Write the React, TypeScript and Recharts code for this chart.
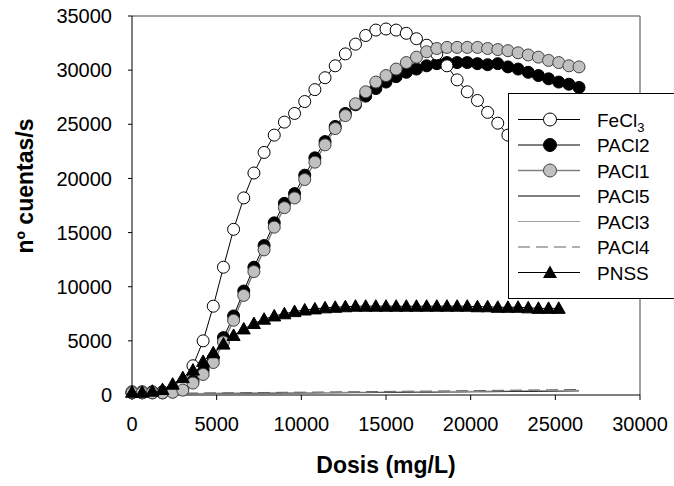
import React from 'react';
import { LineChart, Line, XAxis, YAxis, ReferenceLine, Legend, Label } from 'recharts';

const FONT = 'Arial, "Liberation Sans", sans-serif';

// dose (mg/L)
const doses = [
  0, 600, 1200, 1800, 2400, 3000, 3600, 4200, 4800, 5400, 6000, 6600, 7200, 7800, 8400,
  9000, 9600, 10200, 10800, 11400, 12000, 12600, 13200, 13800, 14400, 15000, 15600, 16200,
  16800, 17400, 18000, 18600, 19200, 19800, 20400, 21000, 21600, 22200, 22800, 23400, 24000,
  24600, 25200, 25800, 26400,
];

const fecl3 = [
  300, 300, 300, 300, 400, 1000, 2700, 5000, 8200, 11800, 15300, 18200, 20500, 22400, 24000,
  25200, 26000, 27100, 28200, 29300, 30400, 31500, 32400, 33200, 33700, 33800, 33700, 33400,
  32900, 32300, 31500, 30400, 29100, 28000, 27200, 26100, 25100, 24000, null, null, null,
  null, null, null, null,
];

const pacl2 = [
  200, 200, 200, 200, 300, 600, 1300, 2300, 3400, 5300, 7300, 9600, 11800, 13800, 15900,
  17700, 18600, 20300, 21900, 23400, 24800, 26000, 26800, 27600, 28300, 28900, 29400, 29800,
  30100, 30400, 30600, 30700, 30700, 30700, 30600, 30500, 30600, 30300, 30100, 29800, 29500,
  29200, 28900, 28700, 28400,
];

const pacl1 = [
  200, 200, 200, 200, 250, 450, 1100, 1900, 3000, 4900, 6900, 9200, 11400, 13400, 15500,
  17300, 18200, 19900, 21500, 23100, 24600, 25800, 26900, 28000, 28900, 29500, 30100, 30700,
  31200, 31700, 32000, 32100, 32100, 32100, 32100, 32000, 31900, 31800, 31600, 31400, 31200,
  30900, 30700, 30400, 30300,
];

const pacl5 = [
  100, 100, 110, 110, 120, 120, 130, 140, 140, 150, 150, 160, 160, 170, 170,
  180, 180, 190, 190, 200, 200, 210, 220, 220, 230, 240, 240, 250, 260, 260,
  270, 280, 280, 290, 300, 300, 310, 320, 330, 330, 340, 350, 360, 370, 380,
];

const pacl3 = [
  120, 120, 130, 130, 140, 140, 150, 150, 160, 170, 170, 180, 190, 190, 200,
  210, 210, 220, 230, 230, 240, 250, 260, 260, 270, 280, 290, 300, 300, 310,
  320, 330, 340, 340, 350, 360, 370, 380, 390, 400, 410, 410, 420, 430, 440,
];

const pacl4 = [
  150, 150, 160, 160, 170, 180, 180, 190, 200, 200, 210, 220, 230, 230, 240,
  250, 260, 260, 270, 280, 290, 300, 300, 310, 320, 330, 340, 350, 360, 360,
  370, 380, 390, 400, 410, 420, 430, 440, 450, 460, 470, 480, 490, 500, 510,
];

const pnss = [
  250, 250, 350, 500, 1000, 1600, 2300, 3100, 3900, 4700, 5500, 6100, 6600, 7000, 7300,
  7500, 7700, 7850, 7950, 8050, 8100, 8150, 8200, 8200, 8200, 8200, 8200, 8200, 8200, 8200,
  8200, 8200, 8200, 8200, 8150, 8150, 8100, 8100, 8100, 8050, 8000, 8000, 8000, null, null,
];

const xTicks = [0, 5000, 10000, 15000, 20000, 25000, 30000];
const yTicks = [0, 5000, 10000, 15000, 20000, 25000, 30000, 35000];

const data = doses.map((d, i) => ({
  dose: d,
  fecl3: fecl3[i],
  pacl2: pacl2[i],
  pacl1: pacl1[i],
  pacl5: pacl5[i],
  pacl3: pacl3[i],
  pacl4: pacl4[i],
  pnss: pnss[i],
}));

const Triangle = (props: any) => {
  const { cx, cy, index } = props;
  if (cx == null || cy == null || isNaN(cy)) return <g key={`t${index}`} />;
  return (
    <polygon
      key={`t${index}`}
      points={`${cx},${cy - 6.5} ${cx + 6.5},${cy + 5} ${cx - 6.5},${cy + 5}`}
      fill="#000"
      stroke="#000"
      strokeWidth={1}
    />
  );
};

const legendRows = [
  { name: 'FeCl', sub: '3', line: '#000', dash: undefined, width: 1, marker: 'circle', fill: '#fff' },
  { name: 'PACl2', line: '#000', dash: undefined, width: 1, marker: 'circle', fill: '#000' },
  { name: 'PACl1', line: '#808080', dash: undefined, width: 1.5, marker: 'circle', fill: '#c0c0c0' },
  { name: 'PACl5', line: '#000', dash: undefined, width: 1, marker: 'none', fill: '' },
  { name: 'PACl3', line: '#a0a0a0', dash: undefined, width: 1, marker: 'none', fill: '' },
  { name: 'PACl4', line: '#606060', dash: '12 6', width: 1, marker: 'none', fill: '' },
  { name: 'PNSS', line: '#000', dash: undefined, width: 1, marker: 'triangle', fill: '#000' },
];

const LegendBox = () => (
  <svg width={170} height={206} style={{ display: 'block' }}>
    <rect x={0.5} y={0.5} width={169} height={205} fill="#fff" stroke="#000" strokeWidth={1} />
    {legendRows.map((r, i) => {
      const y = 26.5 + i * 25.5;
      return (
        <g key={r.name}>
          <line x1={10} x2={72} y1={y} y2={y} stroke={r.line} strokeWidth={r.width} strokeDasharray={r.dash} />
          {r.marker === 'circle' && (
            <circle cx={42} cy={y} r={6.5} fill={r.fill} stroke={r.fill === '#c0c0c0' ? '#404040' : '#000'} />
          )}
          {r.marker === 'triangle' && (
            <polygon points={`42,${y - 7} 49,${y + 5.5} 35,${y + 5.5}`} fill="#000" />
          )}
          <text x={89} y={y + 7} fontSize={19} fontFamily={FONT} fill="#000">
            {r.name}
            {r.sub && (
              <tspan fontSize={13} dy={5}>
                {r.sub}
              </tspan>
            )}
          </text>
        </g>
      );
    })}
  </svg>
);

export default function App() {
  return (
    <div
      style={{
        position: 'absolute',
        left: 0,
        top: 0,
        width: 674,
        height: 486,
        overflow: 'hidden',
        background: '#fff',
        fontFamily: FONT,
      }}
    >
      <LineChart width={674} height={486} data={data} margin={{ top: 16, right: 34, bottom: 0, left: 0 }}>
        <XAxis
          dataKey="dose"
          type="number"
          domain={[0, 30000]}
          ticks={xTicks}
          height={91}
          tickSize={5}
          tickMargin={17}
          axisLine={{ stroke: '#000' }}
          tickLine={{ stroke: '#000' }}
          tick={{ fill: '#000', fontSize: 20, fontFamily: FONT }}
        >
          <Label
            content={() => (
              <text x={386} y={473} textAnchor="middle" fontSize={23} fontWeight="bold" fontFamily={FONT} fill="#000">
                Dosis (mg/L)
              </text>
            )}
          />
        </XAxis>
        <YAxis
          type="number"
          domain={[0, 35000]}
          ticks={yTicks}
          width={132}
          tickSize={4}
          tickMargin={16}
          axisLine={{ stroke: '#000' }}
          tickLine={{ stroke: '#000' }}
          tick={{ fill: '#000', fontSize: 20, fontFamily: FONT }}
        >
          <Label
            content={() => (
              <text
                x={33}
                y={186}
                transform="rotate(-90 33 186)"
                textAnchor="middle"
                fontSize={23}
                fontWeight="bold"
                fontFamily={FONT}
                fill="#000"
              >
                nº cuentas/s
              </text>
            )}
          />
        </YAxis>
        <ReferenceLine y={35000} stroke="#808080" strokeWidth={1.5} />
        <ReferenceLine x={30000} stroke="#808080" strokeWidth={1.5} />

        <Line
          dataKey="pacl2"
          name="PACl2"
          stroke="#000"
          strokeWidth={1}
          dot={{ r: 6, fill: '#000', stroke: '#000', strokeWidth: 1 }}
          activeDot={false}
          isAnimationActive={false}
        />
        <Line
          dataKey="fecl3"
          name="FeCl3"
          stroke="#000"
          strokeWidth={1}
          dot={{ r: 6, fill: '#fff', stroke: '#000', strokeWidth: 1 }}
          activeDot={false}
          isAnimationActive={false}
        />
        <Line
          dataKey="pacl1"
          name="PACl1"
          stroke="#808080"
          strokeWidth={1.5}
          dot={{ r: 6, fill: '#c0c0c0', stroke: '#404040', strokeWidth: 1 }}
          activeDot={false}
          isAnimationActive={false}
        />
        <Line dataKey="pacl5" name="PACl5" stroke="#000" strokeWidth={1} dot={false} activeDot={false} isAnimationActive={false} />
        <Line dataKey="pacl3" name="PACl3" stroke="#a0a0a0" strokeWidth={1} dot={false} activeDot={false} isAnimationActive={false} />
        <Line
          dataKey="pacl4"
          name="PACl4"
          stroke="#606060"
          strokeWidth={1}
          strokeDasharray="12 6"
          dot={false}
          activeDot={false}
          isAnimationActive={false}
        />
        <Line
          dataKey="pnss"
          name="PNSS"
          stroke="#000"
          strokeWidth={1}
          dot={Triangle}
          activeDot={false}
          isAnimationActive={false}
        />
        <Legend
          layout="vertical"
          align="center"
          verticalAlign="middle"
          width={170}
          height={206}
          wrapperStyle={{ position: 'absolute', left: 508, top: 93, width: 170, height: 206 }}
          content={() => <LegendBox />}
        />
      </LineChart>
    </div>
  );
}
